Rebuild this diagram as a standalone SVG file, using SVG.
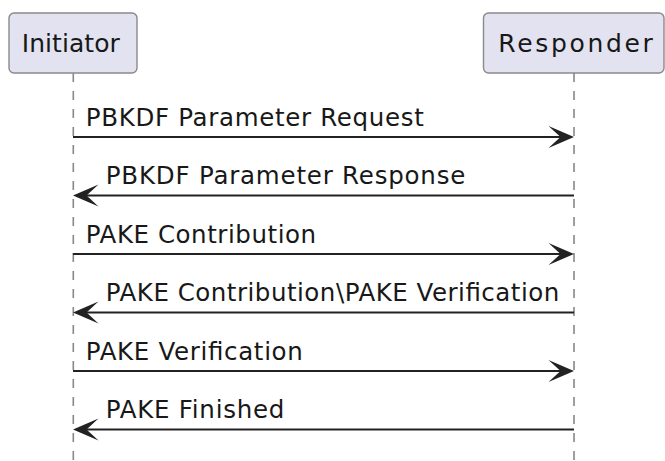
<svg xmlns="http://www.w3.org/2000/svg" width="665" height="461" viewBox="0 0 665 461">
<style>
.box{fill:#E2E2F0;stroke:#8a8a8a;stroke-width:1.4}
.life{stroke:#888;stroke-width:1.6;stroke-dasharray:9,9;fill:none}
.msg{stroke:#222;stroke-width:1.8;fill:none}
.head{fill:#222;stroke:none}
.ptxt{font-family:"DejaVu Sans",sans-serif;font-size:25px;fill:#181818}
.mtxt{font-family:"DejaVu Sans",sans-serif;font-size:24.5px;fill:#181818}
</style>
<rect width="665" height="461" fill="#fff"/>
<g id="lifelines">
<line class="life" x1="73.3" y1="73" x2="73.3" y2="461"/>
<line class="life" x1="574" y1="73" x2="574" y2="461"/>
</g>
<g id="Initiator">
<rect class="box" x="9" y="13" width="128" height="60" rx="5"/>
<text class="ptxt" x="21.8" y="52.3" textLength="98" lengthAdjust="spacing">Initiator</text>
</g>
<g id="Responder">
<rect class="box" x="483.5" y="13" width="180.5" height="60" rx="5"/>
<text class="ptxt" x="498.3" y="52" textLength="154.5" lengthAdjust="spacing">Responder</text>
</g>
<g id="connectors">
<line class="msg" x1="73" y1="137" x2="570" y2="137"/>
<polygon class="head" points="574,137 548.5,126 560.5,137 548.5,148"/>
<text class="mtxt" x="85.8" y="125.5" textLength="338" lengthAdjust="spacing">PBKDF Parameter Request</text>
<line class="msg" x1="77" y1="195.5" x2="574" y2="195.5"/>
<polygon class="head" points="73,195.5 98.5,184.5 86.5,195.5 98.5,206.5"/>
<text class="mtxt" x="105.8" y="184" textLength="359.5" lengthAdjust="spacing">PBKDF Parameter Response</text>
<line class="msg" x1="73" y1="254" x2="570" y2="254"/>
<polygon class="head" points="574,254 548.5,243 560.5,254 548.5,265"/>
<text class="mtxt" x="85.8" y="242.5" textLength="230.3" lengthAdjust="spacing">PAKE Contribution</text>
<line class="msg" x1="77" y1="312.5" x2="574" y2="312.5"/>
<polygon class="head" points="73,312.5 98.5,301.5 86.5,312.5 98.5,323.5"/>
<text class="mtxt" x="105.8" y="301" textLength="453.5" lengthAdjust="spacing">PAKE Contribution\PAKE Verification</text>
<line class="msg" x1="73" y1="371" x2="570" y2="371"/>
<polygon class="head" points="574,371 548.5,360 560.5,371 548.5,382"/>
<text class="mtxt" x="85.8" y="359.5" textLength="217" lengthAdjust="spacing">PAKE Verification</text>
<line class="msg" x1="77" y1="429.5" x2="574" y2="429.5"/>
<polygon class="head" points="73,429.5 98.5,418.5 86.5,429.5 98.5,440.5"/>
<text class="mtxt" x="105.8" y="418" textLength="178.5" lengthAdjust="spacing">PAKE Finished</text>
</g>
</svg>
